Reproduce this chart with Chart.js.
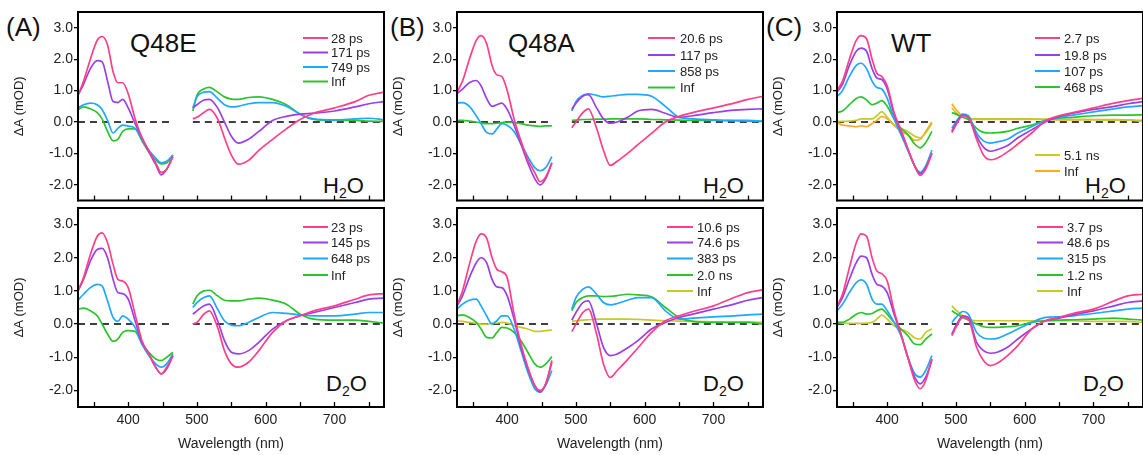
<!DOCTYPE html>
<html>
<head>
<meta charset="utf-8">
<script src="https://cdn.jsdelivr.net/npm/chart.js@4/dist/chart.umd.min.js"></script>
<style>
  body { margin: 0; background: #fff; width: 1143px; height: 455px; position: relative; overflow: hidden;
         font-family: "Liberation Sans", Arial, sans-serif; color: #111; }
  canvas { position: absolute; }
  .t { position: absolute; line-height: 1; white-space: nowrap; }
  .big { font-size: 26px; }
  .sol { font-size: 22px; }
  .sol span { font-size: 14px; position: relative; top: 5px; }
</style>
</head>
<body>
<div class="t big" style="left:6px;top:14px">(A)</div>
<div class="t big" style="left:390px;top:14px">(B)</div>
<div class="t big" style="left:766px;top:14px">(C)</div>
<div class="t big" style="left:130px;top:30px">Q48E</div>
<div class="t big" style="left:508px;top:30px">Q48A</div>
<div class="t big" style="left:891px;top:30px">WT</div>
<div class="t sol" style="left:323px;top:175px">H<span>2</span>O</div>
<div class="t sol" style="left:703px;top:175px">H<span>2</span>O</div>
<div class="t sol" style="left:1085px;top:175px">H<span>2</span>O</div>
<div class="t sol" style="left:326px;top:373px">D<span>2</span>O</div>
<div class="t sol" style="left:703px;top:373px">D<span>2</span>O</div>
<div class="t sol" style="left:1083px;top:373px">D<span>2</span>O</div>
<script>
// wavelength grid (nm); 480 is the gap between the two probe windows
const wavelength = [327,335,345,355,362,370,378,385,392,400,410,420,430,440,448,456,465, 480,
  494,500,510,518,530,540,550,560,575,590,610,630,650,670,700,730,750,772];
const baseWl = [327, 465, 480, 494, 772];
const baseVal = [0, 0, null, 0, 0];
const xLabels = [400, 500, 600, 700];
const xMinor = [350, 400, 450, 500, 550, 600, 650, 700, 750];
const yLabels = [-2, -1, 0, 1, 2, 3];

// (A) Q48E, H2O
const aH1 = [0.85,1.3,2.0,2.6,2.72,2.45,1.6,1.25,1.25,0.9,0.1,-0.5,-0.9,-1.3,-1.6,-1.5,-1.1, null,
  0.1,0.15,0.3,0.4,0.1,-0.5,-1.05,-1.34,-1.22,-0.9,-0.55,-0.22,0.08,0.28,0.45,0.65,0.85,0.95];
const aH2 = [0.85,1.2,1.7,1.95,1.92,1.3,0.65,0.62,0.72,0.45,-0.05,-0.5,-0.95,-1.35,-1.68,-1.5,-1.1, null,
  0.45,0.55,0.7,0.72,0.45,0.0,-0.45,-0.67,-0.55,-0.3,0.05,0.18,0.25,0.28,0.35,0.48,0.58,0.65];
const aH3 = [0.45,0.55,0.6,0.55,0.4,0.05,-0.35,-0.2,-0.1,-0.13,-0.2,-0.55,-0.9,-1.15,-1.3,-1.25,-1.05, null,
  0.45,0.8,0.95,0.97,0.75,0.55,0.48,0.5,0.58,0.62,0.62,0.5,0.25,0.1,0.07,0.1,0.12,0.07];
const aH4 = [0.4,0.48,0.42,0.3,0.1,-0.3,-0.6,-0.55,-0.3,-0.22,-0.22,-0.6,-0.95,-1.2,-1.33,-1.3,-1.05, null,
  0.35,0.85,1.05,1.1,0.95,0.8,0.73,0.72,0.78,0.8,0.72,0.55,0.25,0.08,0.05,0.05,0.03,0.02];
// (A) Q48E, D2O
const aD1 = [1.0,1.4,2.1,2.65,2.75,2.45,1.8,1.35,1.3,1.1,0.3,-0.5,-0.9,-1.3,-1.5,-1.3,-0.95, null,
  0.0,0.05,0.3,0.4,-0.1,-0.8,-1.2,-1.3,-1.15,-0.8,-0.25,0.1,0.25,0.4,0.55,0.75,0.88,0.92];
const aD2 = [1.0,1.35,1.9,2.25,2.28,2.0,1.35,0.95,0.92,0.75,0.1,-0.55,-0.9,-1.3,-1.5,-1.35,-0.95, null,
  0.3,0.4,0.55,0.6,0.1,-0.5,-0.85,-0.9,-0.8,-0.55,-0.15,0.1,0.25,0.35,0.5,0.65,0.75,0.78];
const aD3 = [0.72,0.9,1.1,1.2,1.15,0.7,0.2,0.08,0.25,0.15,-0.1,-0.6,-0.95,-1.2,-1.3,-1.2,-0.9, null,
  0.5,0.65,0.8,0.85,0.45,0.1,-0.03,-0.05,0.05,0.2,0.35,0.32,0.28,0.25,0.25,0.3,0.35,0.35];
const aD4 = [0.45,0.48,0.4,0.25,0.0,-0.3,-0.52,-0.45,-0.25,-0.2,-0.22,-0.6,-0.85,-1.05,-1.1,-1.0,-0.85, null,
  0.6,0.85,1.0,1.02,0.85,0.72,0.7,0.7,0.75,0.78,0.72,0.6,0.3,0.15,0.12,0.12,0.08,0.03];
// (B) Q48A, H2O
const bH1 = [0.95,1.3,2.0,2.6,2.75,2.5,1.8,1.5,1.45,1.0,0.1,-0.6,-1.2,-1.6,-1.9,-1.75,-1.3, null,
  -0.18,0.0,0.3,0.42,-0.2,-0.9,-1.38,-1.25,-1.0,-0.72,-0.36,0.0,0.18,0.3,0.45,0.6,0.72,0.82];
const bH2 = [0.9,1.05,1.25,1.32,1.15,0.75,0.5,0.55,0.6,0.4,-0.1,-0.7,-1.3,-1.8,-2.0,-1.8,-1.3, null,
  0.4,0.6,0.82,0.87,0.45,0.1,-0.04,0.0,0.15,0.35,0.4,0.28,0.15,0.2,0.3,0.38,0.4,0.42];
const bH3 = [0.6,0.62,0.5,0.2,-0.05,-0.33,-0.38,-0.22,-0.05,-0.1,-0.3,-0.7,-1.1,-1.45,-1.55,-1.45,-1.1, null,
  0.35,0.65,0.85,0.9,0.85,0.8,0.82,0.85,0.88,0.88,0.82,0.5,0.15,0.1,0.07,0.05,0.05,0.03];
const bH4 = [0.05,0.05,0.03,0.0,-0.03,-0.05,-0.05,-0.04,-0.02,0.0,-0.02,-0.05,-0.1,-0.12,-0.14,-0.12,-0.12, null,
  0.05,0.06,0.08,0.08,0.09,0.09,0.1,0.1,0.1,0.1,0.08,0.07,0.06,0.05,0.05,0.04,0.03,0.02];
// (B) Q48A, D2O
const bD1 = [0.58,1.0,1.8,2.5,2.72,2.6,2.0,1.65,1.58,1.4,0.3,-0.6,-1.3,-1.85,-2.0,-1.8,-1.1, null,
  -0.23,0.0,0.35,0.45,-0.3,-1.2,-1.61,-1.4,-1.07,-0.72,-0.25,0.1,0.25,0.38,0.55,0.8,0.95,1.03];
const bD2 = [0.55,0.85,1.4,1.85,2.0,1.85,1.35,1.12,1.1,0.85,0.15,-0.7,-1.35,-1.85,-2.05,-1.8,-1.15, null,
  0.12,0.35,0.65,0.7,0.0,-0.7,-0.95,-0.9,-0.72,-0.5,-0.15,0.05,0.2,0.3,0.45,0.6,0.72,0.8];
const bD3 = [0.45,0.6,0.72,0.75,0.55,0.25,0.0,0.1,0.25,0.25,-0.15,-0.8,-1.45,-1.95,-2.05,-1.85,-1.4, null,
  0.45,0.8,1.05,1.12,0.9,0.65,0.58,0.62,0.72,0.8,0.8,0.4,0.15,0.18,0.22,0.25,0.28,0.3];
const bD4 = [0.25,0.28,0.2,0.05,-0.15,-0.4,-0.42,-0.25,-0.1,-0.12,-0.25,-0.5,-0.85,-1.2,-1.3,-1.2,-0.98, null,
  0.4,0.65,0.8,0.85,0.85,0.83,0.84,0.86,0.9,0.88,0.82,0.5,0.2,0.08,0.05,0.05,0.05,0.0];
const bD5 = [0.1,0.08,0.05,0.02,0.0,0.0,0.02,0.03,0.05,0.03,-0.05,-0.1,-0.15,-0.22,-0.22,-0.2,-0.17, null,
  0.08,0.1,0.12,0.13,0.15,0.15,0.15,0.15,0.15,0.14,0.12,0.1,0.09,0.08,0.07,0.06,0.06,0.05];
// (C) WT, H2O
const cH1 = [1.0,1.3,2.0,2.6,2.75,2.65,2.0,1.55,1.45,1.15,0.3,-0.25,-0.85,-1.4,-1.7,-1.5,-1.0, null,
  -0.34,-0.1,0.2,0.15,-0.55,-1.05,-1.2,-1.15,-0.95,-0.7,-0.35,0.03,0.2,0.3,0.45,0.6,0.68,0.75];
const cH2 = [0.95,1.2,1.8,2.25,2.35,2.25,1.7,1.4,1.35,1.05,0.25,-0.3,-0.85,-1.4,-1.65,-1.45,-1.0, null,
  -0.3,-0.05,0.22,0.15,-0.45,-0.8,-0.93,-0.88,-0.75,-0.5,-0.25,0.0,0.18,0.28,0.4,0.5,0.58,0.65];
const cH3 = [0.8,1.0,1.45,1.8,1.87,1.7,1.3,1.1,1.05,0.75,0.1,-0.4,-0.9,-1.4,-1.6,-1.4,-0.9, null,
  -0.2,0.0,0.25,0.2,-0.35,-0.6,-0.67,-0.63,-0.55,-0.35,-0.15,0.05,0.15,0.22,0.32,0.42,0.48,0.52];
const cH4 = [0.3,0.35,0.55,0.75,0.8,0.7,0.55,0.6,0.68,0.5,0.1,-0.2,-0.4,-0.7,-0.82,-0.65,-0.3, null,
  0.3,0.25,0.15,0.08,-0.2,-0.33,-0.35,-0.34,-0.3,-0.2,-0.1,0.05,0.12,0.15,0.2,0.22,0.22,0.23];
const cH5 = [0.02,0.02,0.03,0.05,0.1,0.1,0.1,0.2,0.33,0.15,-0.1,-0.2,-0.3,-0.45,-0.5,-0.35,-0.05, null,
  0.45,0.3,0.15,0.12,0.1,0.1,0.1,0.1,0.1,0.1,0.1,0.09,0.08,0.08,0.07,0.06,0.06,0.05];
const cH6 = [0.0,-0.1,-0.12,-0.15,-0.12,-0.15,-0.05,0.05,0.18,0.1,-0.1,-0.3,-0.4,-0.58,-0.55,-0.3,0.0, null,
  0.58,0.4,0.18,0.1,0.08,0.08,0.08,0.08,0.08,0.08,0.08,0.08,0.07,0.07,0.08,0.08,0.07,0.02];
// (C) WT, D2O
const cD1 = [0.55,0.9,1.7,2.45,2.72,2.65,2.0,1.6,1.52,1.3,0.4,-0.3,-1.0,-1.7,-1.95,-1.7,-1.05, null,
  -0.35,-0.1,0.2,0.15,-0.7,-1.1,-1.25,-1.18,-0.95,-0.65,-0.15,0.1,0.2,0.32,0.45,0.7,0.85,0.9];
const cD2 = [0.5,0.8,1.35,1.85,2.05,2.0,1.5,1.2,1.15,0.95,0.3,-0.3,-1.0,-1.6,-1.8,-1.6,-1.1, null,
  -0.3,-0.05,0.25,0.2,-0.55,-0.8,-0.88,-0.85,-0.7,-0.45,-0.15,0.1,0.18,0.28,0.4,0.55,0.65,0.7];
const cD3 = [0.4,0.6,0.95,1.25,1.33,1.2,0.75,0.6,0.6,0.4,0.05,-0.35,-1.0,-1.5,-1.6,-1.4,-0.95, null,
  0.05,0.2,0.38,0.3,-0.25,-0.42,-0.45,-0.43,-0.3,-0.15,0.05,0.2,0.22,0.25,0.32,0.4,0.45,0.48];
const cD4 = [0.05,0.05,0.15,0.3,0.35,0.3,0.32,0.4,0.45,0.3,0.05,-0.15,-0.35,-0.6,-0.62,-0.45,-0.3, null,
  0.4,0.32,0.2,0.12,0.0,-0.08,-0.1,-0.1,-0.08,-0.05,0.05,0.1,0.12,0.13,0.15,0.18,0.15,0.12];
const cD5 = [0.05,0.03,0.02,0.02,0.02,0.03,0.05,0.15,0.27,0.15,-0.05,-0.15,-0.25,-0.42,-0.45,-0.25,-0.15, null,
  0.55,0.42,0.25,0.15,0.1,0.1,0.1,0.1,0.1,0.1,0.1,0.1,0.1,0.1,0.08,0.08,0.08,0.05];

const PINK = '#ff3f88', PURPLE = '#9a3fe6', BLUE = '#1fa8ff', GREEN = '#2cc42c', YELLOW = '#c8c82a', ORANGE = '#ffaa22';

const panels = [
  { x: 78, row: 0, series: [['28 ps', aH1, PINK], ['171 ps', aH2, PURPLE], ['749 ps', aH3, BLUE], ['Inf', aH4, GREEN]],
    legend: { x1: 303, x2: 328, tx: 331, ys: [38, 52.5, 67, 81.5] } },
  { x: 78, row: 1, series: [['23 ps', aD1, PINK], ['145 ps', aD2, PURPLE], ['648 ps', aD3, BLUE], ['Inf', aD4, GREEN]],
    legend: { x1: 303, x2: 328, tx: 331, ys: [227, 242.5, 258.5, 275] } },
  { x: 457, row: 0, series: [['20.6 ps', bH1, PINK], ['117 ps', bH2, PURPLE], ['858 ps', bH3, BLUE], ['Inf', bH4, GREEN]],
    legend: { x1: 648, x2: 675, tx: 680, ys: [38, 55, 71, 87.5] } },
  { x: 457, row: 1, series: [['10.6 ps', bD1, PINK], ['74.6 ps', bD2, PURPLE], ['383 ps', bD3, BLUE], ['2.0 ns', bD4, GREEN], ['Inf', bD5, YELLOW]],
    legend: { x1: 667, x2: 693, tx: 697, ys: [227, 242.5, 258.5, 275, 291] } },
  { x: 837, row: 0, series: [['2.7 ps', cH1, PINK], ['19.8 ps', cH2, PURPLE], ['107 ps', cH3, BLUE], ['468 ps', cH4, GREEN], ['5.1 ns', cH5, YELLOW], ['Inf', cH6, ORANGE]],
    legend: { x1: 1035, x2: 1060, tx: 1064, ys: [38, 55, 71, 87, 155, 171] } },
  { x: 837, row: 1, series: [['3.7 ps', cD1, PINK], ['48.6 ps', cD2, PURPLE], ['315 ps', cD3, BLUE], ['1.2 ns', cD4, GREEN], ['Inf', cD5, YELLOW]],
    legend: { x1: 1037, x2: 1063, tx: 1067, ys: [227, 242.5, 258.5, 275, 291] } }
];

Chart.defaults.font.family = '"Liberation Sans", Arial, sans-serif';
Chart.defaults.color = '#222';

function makePanel(p) {
  const left = p.x - 78, top = p.row ? 196 : 0;
  const w = 386, h = p.row ? 259 : 210;
  const cv = document.createElement('canvas');
  cv.width = w; cv.height = h;
  cv.style.left = left + 'px'; cv.style.top = top + 'px';
  cv.style.width = w + 'px'; cv.style.height = h + 'px';
  document.body.appendChild(cv);

  const datasets = p.series.map(([label, vals, color]) => ({
    label,
    data: wavelength.map((x, i) => ({ x, y: vals[i] })),
    borderColor: color,
    borderWidth: 1.7,
    pointRadius: 0,
    cubicInterpolationMode: 'monotone'
  }));
  datasets.push({
    label: '',
    data: baseWl.map((x, i) => ({ x, y: baseVal[i] })),
    borderColor: '#000',
    borderWidth: 1.5,
    borderDash: [7, 5],
    pointRadius: 0,
    tension: 0
  });

  // frame, inward wavelength ticks and in-plot legend
  const deco = {
    id: 'deco',
    afterDraw(chart) {
      const ctx = chart.ctx, a = chart.chartArea, xs = chart.scales.x;
      ctx.save();
      ctx.setLineDash([]);
      ctx.globalAlpha = 1;
      ctx.strokeStyle = '#000';
      ctx.lineWidth = 1.3;
      xMinor.forEach(v => {
        const px = Math.round(xs.getPixelForValue(v)) + 0.5;
        ctx.beginPath(); ctx.moveTo(px, a.bottom); ctx.lineTo(px, a.bottom - 5); ctx.stroke();
      });
      ctx.lineWidth = 2;
      ctx.beginPath();
      ctx.rect(a.left, a.top, a.right - a.left, a.bottom - a.top);
      ctx.stroke();

      const lg = p.legend;
      ctx.font = '13px "Liberation Sans", Arial, sans-serif';
      ctx.textBaseline = 'middle';
      ctx.fillStyle = '#222';
      p.series.forEach(([label, , color], i) => {
        const y = lg.ys[i] - top;
        ctx.strokeStyle = color;
        ctx.lineWidth = 2;
        ctx.beginPath(); ctx.moveTo(lg.x1 - left, y); ctx.lineTo(lg.x2 - left, y); ctx.stroke();
        ctx.fillText(label, lg.tx - left, y + 1);
      });
      ctx.restore();
    }
  };

  new Chart(cv, {
    type: 'line',
    data: { datasets },
    options: {
      responsive: false,
      animation: false,
      layout: { padding: { left: 0, right: 2, top: 12, bottom: p.row ? 0 : 2 } },
      plugins: { legend: { display: false }, tooltip: { enabled: false } },
      scales: {
        x: {
          type: 'linear', min: 327, max: 772,
          display: p.row === 1,
          grid: { display: false, drawTicks: false },
          border: { display: false },
          afterBuildTicks: s => { s.ticks = xLabels.map(v => ({ value: v })); },
          afterFit: s => { s.height = p.row ? 48 : 0; },
          ticks: { font: { size: 14 }, padding: 5, maxRotation: 0, autoSkip: false, color: '#222' },
          title: { display: true, text: 'Wavelength (nm)', font: { size: 14 }, color: '#222', padding: { top: 2, bottom: 2 } }
        },
        y: {
          min: -2.5, max: 3.5,
          afterBuildTicks: s => { s.ticks = yLabels.map(v => ({ value: v })); },
          afterFit: s => { s.width = 78; },
          grid: { drawOnChartArea: false, drawTicks: true, tickLength: 4, color: '#000', tickColor: '#000', lineWidth: 1.3 },
          border: { display: true, color: '#000', width: 2 },
          ticks: { font: { size: 14 }, padding: 1, color: '#222', callback: v => v.toFixed(1) },
          title: { display: true, text: 'ΔA (mOD)', font: { size: 13 }, color: '#222', padding: { top: 12, bottom: 0 } }
        }
      }
    },
    plugins: [deco]
  });
}

panels.forEach(makePanel);
</script>
</body>
</html>
